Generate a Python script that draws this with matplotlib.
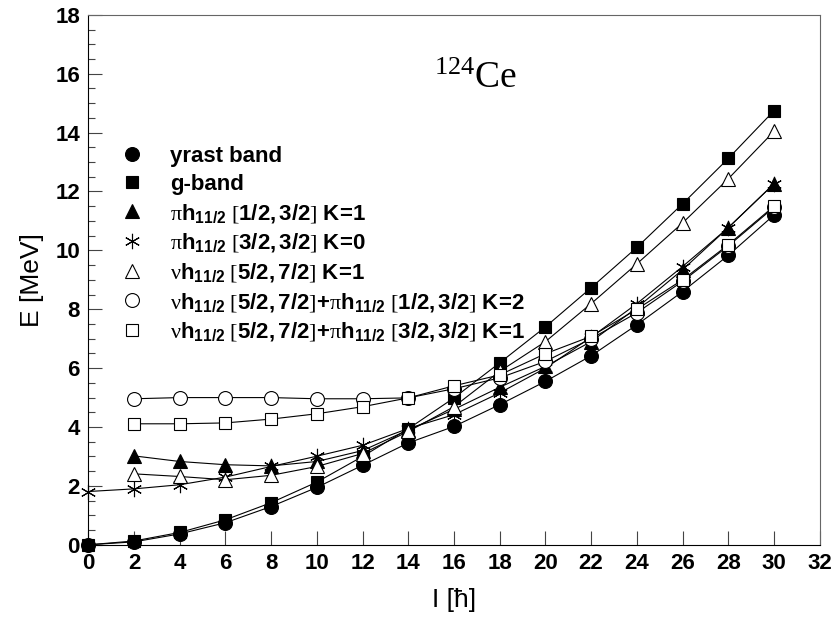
import matplotlib
matplotlib.use('Agg')
import matplotlib.pyplot as plt
from matplotlib.lines import Line2D
from matplotlib.ticker import MultipleLocator
import numpy as np

plt.rcParams['font.family'] = ['Liberation Sans', 'DejaVu Sans']
plt.rcParams['mathtext.fontset'] = 'custom'
plt.rcParams['mathtext.rm'] = 'Liberation Serif'
plt.rcParams['mathtext.bf'] = 'Liberation Sans:bold'
plt.rcParams['mathtext.it'] = 'Liberation Serif:italic'

# spin I (hbar)
spin_all = np.arange(0, 32, 2)       # 0..30
spin_exc = np.arange(2, 32, 2)       # 2..30

# energies E (MeV)
yrast = [0, 0.1, 0.37, 0.75, 1.3, 1.95, 2.7, 3.46, 4.02, 4.76, 5.55, 6.42, 7.47, 8.6, 9.83, 11.2]
gband = [0, 0.13, 0.42, 0.85, 1.43, 2.13, 3.0, 3.94, 4.99, 6.18, 7.4, 8.73, 10.1, 11.58, 13.12, 14.74]
pi_k1 = [3.02, 2.83, 2.72, 2.68, 2.83, 3.2, 3.9, 4.6, 5.35, 6.06, 6.9, 8.05, 9.34, 10.77, 12.26]
pi_k0 = [1.81, 1.9, 2.04, 2.3, 2.66, 3.01, 3.38, 3.95, 4.42, 5.16, 6.0, 7.05, 8.19, 9.45, 10.77, 12.26]
nu_k1 = [2.41, 2.32, 2.21, 2.36, 2.66, 3.1, 3.85, 4.69, 5.89, 6.9, 8.19, 9.54, 10.93, 12.43, 14.04]
nupi_k2 = [4.96, 5.0, 5.0, 5.0, 4.96, 4.96, 4.99, 5.3, 5.67, 6.23, 7.0, 7.88, 8.95, 10.15, 11.46]
nupi_k1 = [4.11, 4.11, 4.14, 4.27, 4.45, 4.69, 4.99, 5.4, 5.77, 6.49, 7.08, 8.0, 9.0, 10.19, 11.5]

labels = [
    'yrast band',
    'g-band',
    r'$\mathrm{\pi}\mathbf{h}_{\mathbf{11/2}}\ \mathrm{[}\mathbf{1/2,3/2}\mathrm{]}\ \mathbf{K\!=\!1}$',
    r'$\mathrm{\pi}\mathbf{h}_{\mathbf{11/2}}\ \mathrm{[}\mathbf{3/2,3/2}\mathrm{]}\ \mathbf{K\!=\!0}$',
    r'$\mathrm{\nu}\mathbf{h}_{\mathbf{11/2}}\ \mathrm{[}\mathbf{5/2,7/2}\mathrm{]}\ \mathbf{K\!=\!1}$',
    r'$\mathrm{\nu}\mathbf{h}_{\mathbf{11/2}}\ \mathrm{[}\mathbf{5/2,7/2}\mathrm{]}\mathbf{+}\mathrm{\pi}\mathbf{h}_{\mathbf{11/2}}\ \mathrm{[}\mathbf{1/2,3/2}\mathrm{]}\ \mathbf{K\!=\!2}$',
    r'$\mathrm{\nu}\mathbf{h}_{\mathbf{11/2}}\ \mathrm{[}\mathbf{5/2,7/2}\mathrm{]}\mathbf{+}\mathrm{\pi}\mathbf{h}_{\mathbf{11/2}}\ \mathrm{[}\mathbf{3/2,3/2}\mathrm{]}\ \mathbf{K\!=\!1}$',
]

asterisk = (6, 2, 0)
styles = [
    dict(marker='o', mfc='black', ms=10),
    dict(marker='s', mfc='black', ms=9),
    dict(marker='^', mfc='black', ms=10),
    dict(marker=asterisk, mfc='black', ms=11),
    dict(marker='^', mfc='white', ms=10),
    dict(marker='o', mfc='white', ms=10),
    dict(marker='s', mfc='white', ms=9),
]
series = [(spin_all, yrast), (spin_all, gband), (spin_exc, pi_k1), (spin_all, pi_k0),
          (spin_exc, nu_k1), (spin_exc, nupi_k2), (spin_exc, nupi_k1)]

fig = plt.figure(figsize=(8.33, 6.17), dpi=100)
ax = fig.add_axes([0.106, 0.117, 0.878, 0.859])

for (xs, ys), st in zip(series, styles):
    ax.plot(xs, ys, color='black', lw=0.8, mec='black', mew=0.8, clip_on=False, **st)

ax.set_xlim(0, 32)
ax.set_ylim(0, 18)
ax.xaxis.set_major_locator(MultipleLocator(2))
ax.yaxis.set_major_locator(MultipleLocator(2))
ax.yaxis.set_minor_locator(MultipleLocator(0.5))
ax.tick_params(which='major', direction='in', length=10, width=0.8, color='#444444',
               labelsize=16, pad=6)
ax.tick_params(which='minor', direction='in', length=5, width=0.8, color='#444444')
ax.tick_params(axis='y', which='both', right=False)
for lab in ax.get_xticklabels() + ax.get_yticklabels():
    lab.set_fontweight('bold')
ax.spines['right'].set_color('#666666')
ax.spines['top'].set_color('#666666')

ax.set_xlabel('I [ħ]', fontsize=19, labelpad=10)
ax.set_ylabel('E [MeV]', fontsize=19, labelpad=8)

ax.text(0.473, 0.862, r'$^{124}\mathrm{Ce}$', transform=ax.transAxes, fontsize=27,
        ha='left', va='baseline')

handles = [Line2D([], [], ls='none', color='black', mec='black', mew=0.8, **st) for st in styles]
leg = ax.legend(handles, labels, loc='upper left', bbox_to_anchor=(0.045, 0.752),
                frameon=False, borderaxespad=0, borderpad=0, handlelength=1.0,
                handletextpad=1.2, labelspacing=0.3,
                prop={'size': 16, 'weight': 'bold'})

fig.savefig('out.png', dpi=100)
